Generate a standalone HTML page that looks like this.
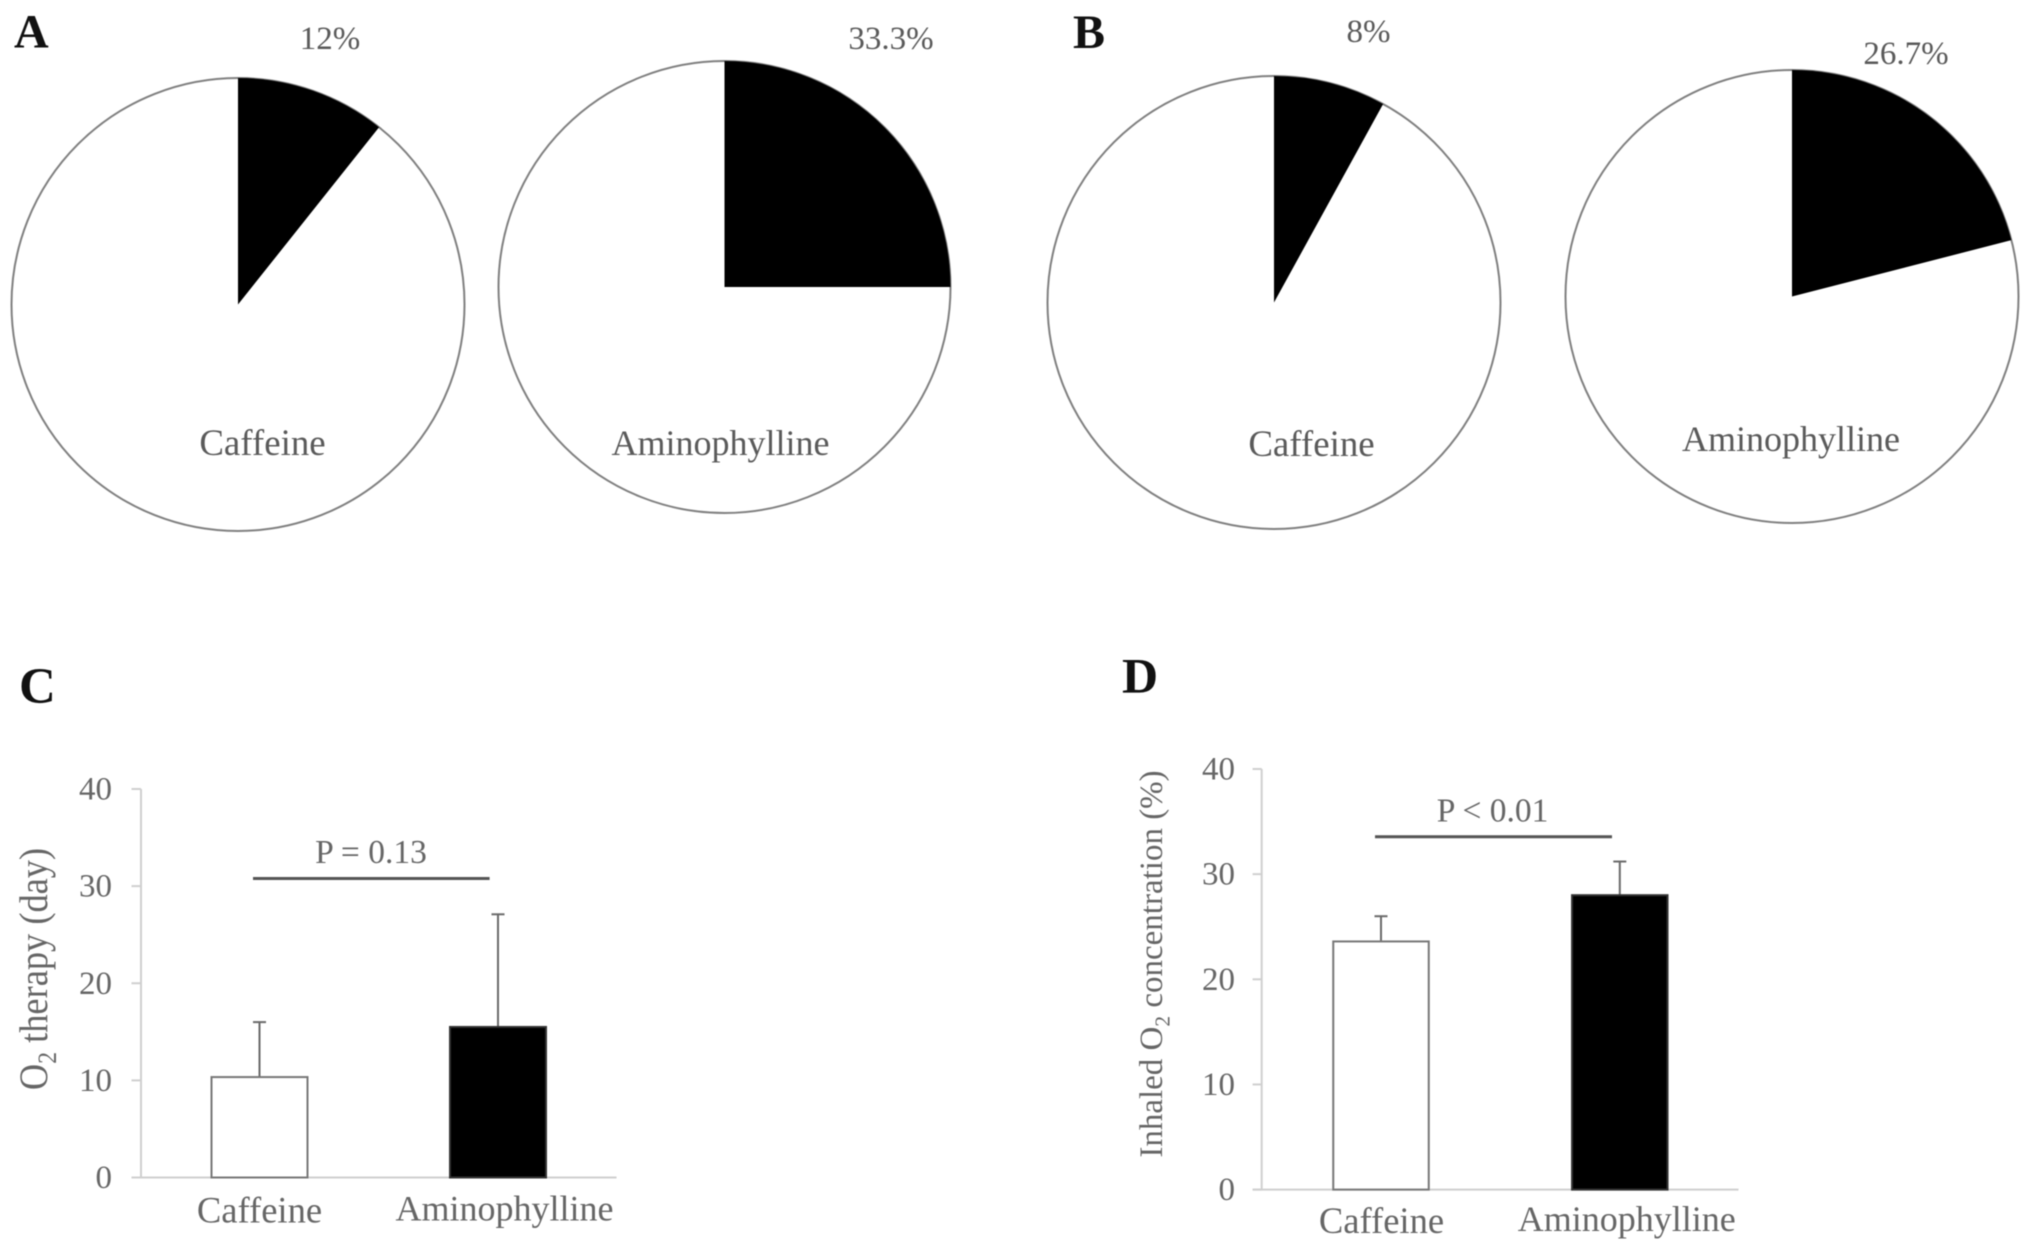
<!DOCTYPE html>
<html lang="en">
<head>
<meta charset="utf-8">
<title>Caffeine vs aminophylline</title>
<style>
html,body{margin:0;padding:0;background:#fff;}
svg{display:block;font-family:"Liberation Serif",serif;filter:blur(0.4px);}
</style>
</head>
<body>
<svg id="figure" xmlns="http://www.w3.org/2000/svg" width="2031" height="1252" viewBox="0 0 2031 1252"></svg>
<script>
// ---- data ----
const categories = ['Caffeine', 'Aminophylline'];
const pieAShares = [0.107, 0.25];
const pieBShares = [0.08, 0.21];
const pieAPrinted = ['12%', '33.3%'];
const pieBPrinted = ['8%', '26.7%'];
const chartCValues = [10.34, 15.5];
const chartCErrorTops = [16.0, 27.1];
const chartDValues = [23.6, 28.0];
const chartDErrorTops = [26.0, 31.2];
const yTicks = [0, 10, 20, 30, 40];
const chartCPText = 'P = 0.13';
const chartDPText = 'P < 0.01';

const NS = 'http://www.w3.org/2000/svg';
const svg = document.getElementById('figure');
const INK = '#5a5a5a';

function make(tag, attrs, parent) {
  const el = document.createElementNS(NS, tag);
  for (const k in attrs) el.setAttribute(k, attrs[k]);
  (parent || svg).appendChild(el);
  return el;
}
function text(str, x, y, size, anchor, fill, weight, parent) {
  const el = make('text', {x: x, y: y, 'font-size': size, 'text-anchor': anchor || 'middle', fill: fill || INK, 'font-weight': weight || 'normal'}, parent);
  el.textContent = str;
  return el;
}
function slug(s) {
  return s.toLowerCase().replace(/[^a-z0-9]+/g, '-').replace(/^-|-$/g, '');
}

// ---- pies ----
function drawPie(prefix, idx, share, printed, g) {
  const group = make('g', {});
  
  

  const outline = make('circle', {cx: g.cx, cy: g.cy, r: g.r, fill: '#fff', stroke: '#808080', 'stroke-width': 2}, group);
  
  

  const angle = share * 2 * Math.PI;
  const ex = g.cx + g.r * Math.sin(angle);
  const ey = g.cy - g.r * Math.cos(angle);
  const large = share > 0.5 ? 1 : 0;
  const wedge = make('path', {d: 'M' + g.cx + ' ' + g.cy + ' L' + g.cx + ' ' + (g.cy - g.r) + ' A' + g.r + ' ' + g.r + ' 0 ' + large + ' 1 ' + ex + ' ' + ey + ' Z', fill: '#000'}, group);
  
  

  const pct = text(printed, g.pctX, g.pctY, 33, 'middle', INK, 'normal', group);
  
  

  const cat = text(categories[idx], g.catX, g.catY, idx === 0 ? 36.9 : 36, 'middle', INK, 'normal', group);
  
  
}

drawPie('panel-a', 0, pieAShares[0], pieAPrinted[0], {cx: 238, cy: 304.5, r: 226.5, pctX: 330, pctY: 49, catX: 262.5, catY: 455});
drawPie('panel-a', 1, pieAShares[1], pieAPrinted[1], {cx: 724.5, cy: 287, r: 226, pctX: 891, pctY: 49, catX: 720.5, catY: 455});
drawPie('panel-b', 0, pieBShares[0], pieBPrinted[0], {cx: 1274, cy: 302.5, r: 226.5, pctX: 1368.5, pctY: 42, catX: 1311.5, catY: 456});
drawPie('panel-b', 1, pieBShares[1], pieBPrinted[1], {cx: 1792, cy: 296.5, r: 226.5, pctX: 1906, pctY: 64, catX: 1791, catY: 451});

// ---- bar charts ----
function drawChart(prefix, values, errorTops, pText, g) {
  const y = function (v) { return g.y0 + (g.y40 - g.y0) * v / 40; };
  const x = function (i) { return g.x0 + g.step * i; };
  const chart = make('g', {});
  
  

  const yAxis = make('line', {x1: g.axisX, x2: g.axisX, y1: y(40), y2: y(0), stroke: '#cfcfcf', 'stroke-width': 2}, chart);
  
  

  const xAxis = make('line', {x1: g.tickLeft, x2: g.axisEnd, y1: y(0), y2: y(0), stroke: '#cfcfcf', 'stroke-width': 2}, chart);
  
  

  yTicks.forEach(function (t) {
    const tick = make('line', {x1: g.tickLeft, x2: g.axisX, y1: y(t), y2: y(t), stroke: '#cfcfcf', 'stroke-width': 2}, chart);
    
    

    const lab = text(String(t), g.tickLabelX, y(t) + 10.5, 33, 'end', '#666', 'normal', chart);
    
    
  });

  values.forEach(function (v, i) {
    const err = make('line', {x1: x(i), x2: x(i), y1: y(errorTops[i]), y2: y(v), stroke: '#6a6a6a', 'stroke-width': 2}, chart);
    
    

    const cap = make('line', {x1: x(i) - 6.5, x2: x(i) + 6.5, y1: y(errorTops[i]), y2: y(errorTops[i]), stroke: '#6a6a6a', 'stroke-width': 2}, chart);
    
    

    const bar = make('rect', {x: x(i) - g.barW / 2, y: y(v), width: g.barW, height: y(0) - y(v), fill: i === 0 ? '#fff' : '#000', stroke: i === 0 ? '#777' : '#333', 'stroke-width': 2}, chart);
    
    

    const lab = text(categories[i], x(i) + g.labelDx[i], y(0) + g.labelDy[i], i === 0 ? 36.6 : 36, 'middle', '#666', 'normal', chart);
    
    
  });

  const sig = make('line', {x1: g.sigX1, x2: g.sigX2, y1: g.sigY, y2: g.sigY, stroke: '#555', 'stroke-width': 3}, chart);
  
  

  const p = text(pText, g.pX, g.pY, 33.5, 'middle', '#666', 'normal', chart);
  
  
}

drawChart('panel-c', chartCValues, chartCErrorTops, chartCPText, {
  y0: 1177.5, y40: 789, x0: 259.5, step: 238.5, barW: 96, axisX: 141, tickLeft: 131.5, axisEnd: 616.5,
  tickLabelX: 112, labelDx: [0, 6.5], labelDy: [45, 43], sigX1: 253, sigX2: 489.6, sigY: 878.5, pX: 371, pY: 863
});
drawChart('panel-d', chartDValues, chartDErrorTops, chartDPText, {
  y0: 1189.6, y40: 769, x0: 1381, step: 238.8, barW: 95.5, axisX: 1261.7, tickLeft: 1252.6, axisEnd: 1738.5,
  tickLabelX: 1235, labelDx: [0.5, 7], labelDy: [43.5, 41.5], sigX1: 1375, sigX2: 1612, sigY: 836.7, pX: 1492.6, pY: 821.5
});

// ---- y-axis titles with subscripts ----
function yTitle(name, cx, cy, size, stretch, before, after) {
  const t = make('text', {transform: 'translate(' + cx + ' ' + cy + ') rotate(-90) scale(' + stretch + ' 1)', 'text-anchor': 'middle', 'font-size': size, fill: '#666'});
  
  
  const a = make('tspan', {}, t);
  a.textContent = before;
  const sub = make('tspan', {dy: size * 0.22, 'font-size': size * 0.65}, t);
  sub.textContent = '2';
  const b = make('tspan', {dy: -size * 0.22}, t);
  b.textContent = after;
}
yTitle('y-axis-title-c', 47, 969, 40, 0.91, 'O', ' therapy (day)');
yTitle('y-axis-title-d', 1162, 964, 33, 1, 'Inhaled O', ' concentration (%)');

// ---- panel letters ----
const panelLetters = [['A', 14, 47.5, 48], ['B', 1073, 48, 48], ['C', 19, 703, 51], ['D', 1122, 692.7, 50]];
panelLetters.forEach(function (p) {
  const l = text(p[0], p[1], p[2], p[3], 'start', '#111', 'bold');
  
  
});
</script>
</body>
</html>
